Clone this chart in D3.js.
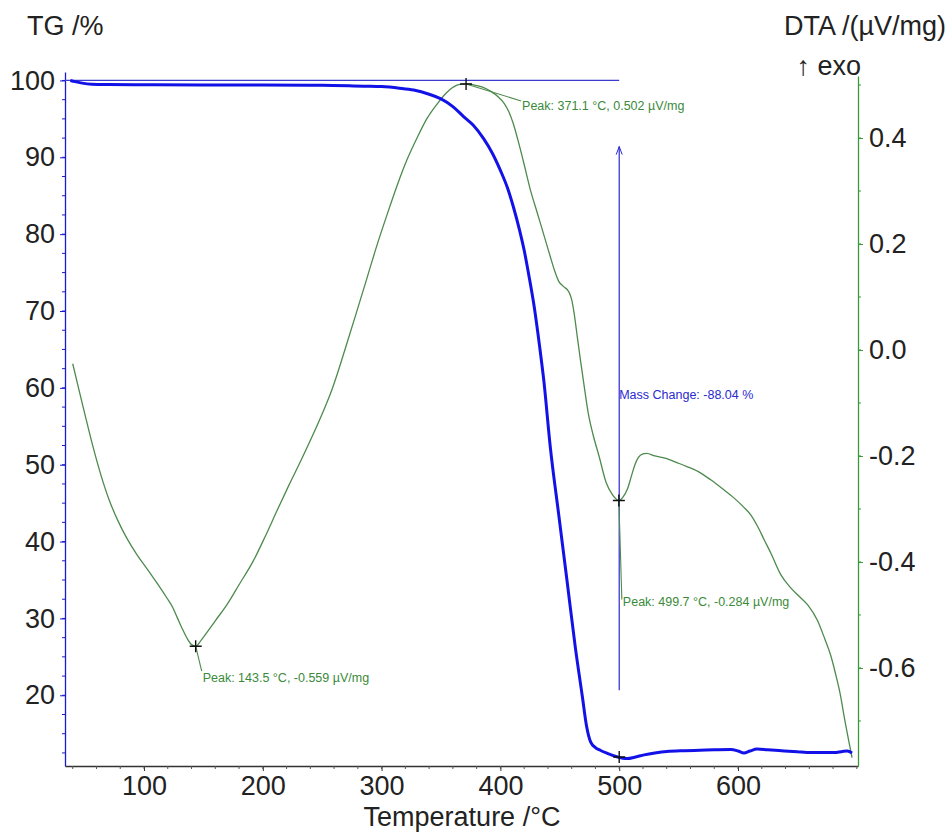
<!DOCTYPE html>
<html>
<head>
<meta charset="utf-8">
<script src="https://cdn.jsdelivr.net/npm/d3@7"></script>
<style>
  body { margin: 0; background: #fff; }
  svg { font-family: "Liberation Sans", Arial, sans-serif; }
</style>
</head>
<body>
<svg id="chart_svg" width="951" height="834"></svg>
<script>
// temperature (°C) and TG (%)
const tgTemp = [38, 42, 48, 56, 70, 100, 150, 200, 250, 285, 300, 315, 327, 340, 350, 360, 369, 377, 386, 393,
  400, 406, 411, 416, 420, 424, 428, 433, 436.5, 442, 449, 456, 463, 469, 472.5, 476, 480, 484, 490, 498,
  503, 507, 513, 521, 530, 540, 555, 568, 580, 594, 600, 605, 610, 616, 625, 639, 650, 658, 670, 681, 688, 692, 696];
const tgValue = [100.0, 99.85, 99.65, 99.52, 99.48, 99.45, 99.42, 99.4, 99.38, 99.25, 99.2, 99.0, 98.75, 98.2, 97.6, 96.6, 95.3, 94.2, 92.4, 90.6,
  88.3, 86.0, 83.5, 80.6, 77.9, 74.6, 71.0, 65.4, 61.0, 52.3, 43.6, 35.0, 26.3, 19.8, 16.0, 13.9, 13.2, 12.85, 12.45, 12.0,
  11.8, 11.77, 11.95, 12.25, 12.5, 12.7, 12.8, 12.85, 12.9, 12.94, 12.75, 12.5, 12.75, 13.0, 12.9, 12.76, 12.65, 12.55, 12.55, 12.55, 12.7, 12.75, 12.5];

// temperature (°C) and DTA (µV/mg)
const dtaTemp = [40, 45, 50, 57, 64, 71, 78, 85.5, 94, 102, 111, 119, 124, 128, 132, 136, 140, 143.5, 148, 153,
  160, 170, 180, 192, 202, 212, 222, 232, 242, 251, 258, 263, 271, 279, 288, 296, 305, 313, 321, 330,
  338, 347, 354, 361, 366, 371.1, 378, 385, 392, 398, 403, 407, 411, 415, 420, 425, 431, 437, 442, 446,
  449, 453, 457.5, 460, 462, 465, 467.5, 470, 474, 478, 483, 489, 494, 499.7, 503, 507, 510, 513, 516, 520,
  523, 530, 540, 548, 557, 567, 577, 587, 597, 605, 611, 617, 622, 628, 636, 644, 652, 659, 667, 673,
  678, 682, 686, 690, 693, 696];
const dtaValue = [-0.026, -0.073, -0.119, -0.182, -0.238, -0.285, -0.322, -0.355, -0.386, -0.411, -0.44, -0.467, -0.485, -0.505, -0.525, -0.543, -0.556, -0.559, -0.548, -0.533,
  -0.511, -0.48, -0.443, -0.398, -0.352, -0.303, -0.255, -0.209, -0.161, -0.115, -0.076, -0.043, 0.014, 0.072, 0.138, 0.197, 0.258, 0.31, 0.357, 0.401,
  0.436, 0.465, 0.484, 0.497, 0.501, 0.502, 0.5, 0.496, 0.488, 0.478, 0.466, 0.45, 0.426, 0.394, 0.35, 0.304, 0.259, 0.214, 0.176, 0.147,
  0.13, 0.12, 0.11, 0.095, 0.07, 0.02, -0.021, -0.06, -0.12, -0.16, -0.2, -0.25, -0.272, -0.284, -0.278, -0.262, -0.24, -0.218, -0.203, -0.196,
  -0.195, -0.2, -0.205, -0.212, -0.22, -0.23, -0.245, -0.262, -0.28, -0.297, -0.312, -0.335, -0.358, -0.385, -0.424, -0.448, -0.466, -0.482, -0.511, -0.545,
  -0.576, -0.61, -0.649, -0.7, -0.735, -0.769];

// tick values
const xTicks = [100, 200, 300, 400, 500, 600];
const tgTicks = [20, 30, 40, 50, 60, 70, 80, 90, 100];
const dtaTicks = [-0.6, -0.4, -0.2, 0.0, 0.2, 0.4];

// peak annotations on the DTA curve
const peakTemp = [371.1, 143.5, 499.7];
const peakValue = [0.502, -0.559, -0.284];
const peakLabel = ["Peak: 371.1 °C, 0.502 µV/mg", "Peak: 143.5 °C, -0.559 µV/mg", "Peak: 499.7 °C, -0.284 µV/mg"];

// mass change step
const stepTemp = 500;
const stepTG = 11.97;
const massChangeLabel = "Mass Change: -88.04 %";

const svg = d3.select("#chart_svg");

const x = d3.scaleLinear().domain([33.5, 701]).range([65, 858]);
const yL = d3.scaleLinear().domain([10.8, 101.1]).range([766, 72]);
const yR = d3.scaleLinear().domain([-0.785, 0.517]).range([766, 76]);

const blue = "#1a1ad0";
const green = "#3a9a3a";
const curveGreen = "#4d8a4d";
const textGreen = "#3a8a3a";
const arrowBlue = "#2a2ad0";

// minor ticks
function minor(g, scale, step, orient, color) {
  const [a, b] = scale.domain();
  const vals = d3.range(Math.ceil(a / step) * step, b + 1e-9, step);
  vals.forEach(v => {
    const p = scale(v);
    if (orient === "left") g.append("line").attr("x1", 0).attr("x2", -3).attr("y1", p).attr("y2", p);
    if (orient === "right") g.append("line").attr("x1", 0).attr("x2", 3).attr("y1", p).attr("y2", p);
    if (orient === "bottom") g.append("line").attr("y1", 0).attr("y2", 3).attr("x1", p).attr("x2", p);
  });
  g.selectAll("line").attr("stroke", color).attr("stroke-width", 1);
}

// x axis
const gx = svg.append("g").attr("transform", "translate(0,766)");
gx.call(d3.axisBottom(x).tickValues(xTicks).tickSize(5).tickPadding(5).tickSizeOuter(0).tickFormat(d3.format("d")));
gx.select(".domain").attr("stroke", "#333").attr("stroke-width", 1.3);
gx.selectAll(".tick line").attr("stroke", "#333");
gx.selectAll("text").attr("font-size", 27).attr("fill", "#222").attr("font-family", null);
minor(gx.append("g"), x, 20, "bottom", "#555");

// left TG axis
const gl = svg.append("g").attr("transform", "translate(65,0)");
gl.call(d3.axisLeft(yL).tickValues(tgTicks).tickSize(5).tickPadding(5).tickSizeOuter(0));
gl.select(".domain").attr("stroke", blue).attr("stroke-width", 1.3);
gl.selectAll(".tick line").attr("stroke", blue);
gl.selectAll("text").attr("font-size", 27).attr("fill", "#222").attr("font-family", null);
minor(gl.append("g"), yL, 2.5, "left", blue);

// right DTA axis
const gr = svg.append("g").attr("transform", "translate(858,0)");
gr.call(d3.axisRight(yR).tickValues(dtaTicks).tickSize(5).tickPadding(6).tickSizeOuter(0));
gr.select(".domain").attr("stroke", green).attr("stroke-width", 1.3);
gr.selectAll(".tick line").attr("stroke", green);
gr.selectAll("text").attr("font-size", 27).attr("fill", "#222").attr("font-family", null)
  .text(d => d3.format(".1f")(d).replace("−", "-"));
minor(gr.append("g"), yR, 0.1, "right", green);

// axis titles
svg.append("text").attr("x", 27).attr("y", 35).attr("font-size", 27).attr("fill", "#222").text("TG /%");
svg.append("text").attr("x", 946).attr("y", 35).attr("text-anchor", "end").attr("font-size", 27).attr("fill", "#222").text("DTA /(µV/mg)");
svg.append("text").attr("x", 861).attr("y", 75).attr("text-anchor", "end").attr("font-size", 27).attr("fill", "#222").text("↑ exo");
svg.append("text").attr("x", 462).attr("y", 826).attr("text-anchor", "middle").attr("font-size", 27).attr("fill", "#222").text("Temperature /°C");

const plot = svg.append("g");

// TG = 100 % reference line up to the step temperature
plot.append("line")
  .attr("x1", x.range()[0]).attr("x2", x(stepTemp))
  .attr("y1", yL(100)).attr("y2", yL(100))
  .attr("stroke", "#3b3bd0").attr("stroke-width", 1.3);

// mass change arrow
const arrowTop = yL(91.4);
plot.append("line")
  .attr("x1", x(stepTemp)).attr("x2", x(stepTemp))
  .attr("y1", yL(20.65)).attr("y2", arrowTop)
  .attr("stroke", arrowBlue).attr("stroke-width", 1.2);
plot.append("path")
  .attr("d", `M${x(stepTemp) - 3},${arrowTop + 8}L${x(stepTemp)},${arrowTop}L${x(stepTemp) + 3},${arrowTop + 8}`)
  .attr("fill", "none").attr("stroke", arrowBlue).attr("stroke-width", 1);

plot.append("text")
  .attr("x", x(stepTemp)).attr("y", yL(58.5))
  .attr("font-size", 12.5).attr("fill", arrowBlue)
  .text(massChangeLabel);

// DTA curve
const dtaData = dtaTemp.map((t, i) => ({ t: t, v: dtaValue[i] }));
const dtaLine = d3.line().x(d => x(d.t)).y(d => yR(d.v)).curve(d3.curveMonotoneX);
plot.append("path").datum(dtaData)
  .attr("fill", "none").attr("stroke", curveGreen).attr("stroke-width", 1.3)
  .attr("d", dtaLine);

// TG curve
const tgData = tgTemp.map((t, i) => ({ t: t, v: tgValue[i] }));
const tgLine = d3.line().x(d => x(d.t)).y(d => yL(d.v)).curve(d3.curveMonotoneX);
plot.append("path").datum(tgData)
  .attr("fill", "none").attr("stroke", "#1212e8").attr("stroke-width", 3)
  .attr("stroke-linejoin", "round")
  .attr("d", tgLine);

// peak labels with leader lines
const leader = [[55, 17], [6, 25], [3, 99]];
const labelOff = [[56, 26], [7, 36], [4, 106]];
peakTemp.forEach((t, i) => {
  const px = x(t), py = yR(peakValue[i]);
  plot.append("line")
    .attr("x1", px).attr("y1", py)
    .attr("x2", px + leader[i][0]).attr("y2", py + leader[i][1])
    .attr("stroke", curveGreen).attr("stroke-width", 1.1);
  plot.append("text")
    .attr("x", px + labelOff[i][0]).attr("y", py + labelOff[i][1])
    .attr("font-size", 12.5).attr("fill", textGreen)
    .text(peakLabel[i]);
});

// cross markers
function cross(cx, cy) {
  plot.append("path")
    .attr("d", `M${cx - 6},${cy}H${cx + 6}M${cx},${cy - 6}V${cy + 6}`)
    .attr("stroke", "#111").attr("stroke-width", 1.4);
}
peakTemp.forEach((t, i) => cross(x(t), yR(peakValue[i])));
cross(x(stepTemp), yL(stepTG));
</script>
</body>
</html>
